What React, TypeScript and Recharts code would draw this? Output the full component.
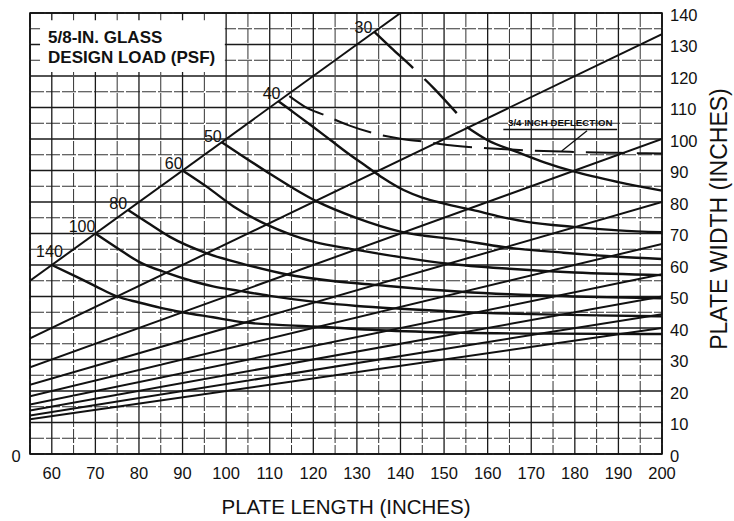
import React from "react";
import {
  LineChart,
  Line,
  XAxis,
  YAxis,
  CartesianGrid,
  ReferenceArea,
  ReferenceLine,
  ReferenceDot,
} from "recharts";

const FONT = "'Liberation Sans', Arial, Helvetica, sans-serif";
const INK = "#111";

// axis ticks (inches)
const lengthTicks = [60, 70, 80, 90, 100, 110, 120, 130, 140, 150, 160, 170, 180, 190, 200];
const lengthMinorTicks = [65, 75, 85, 95, 105, 115, 125, 135, 145, 155, 165, 175, 185, 195];
const widthTicks = [0, 10, 20, 30, 40, 50, 60, 70, 80, 90, 100, 110, 120, 130, 140];
const widthMinorTicks = [5, 15, 25, 35, 45, 55, 65, 75, 85, 95, 105, 115, 125, 135];

// aspect ratio lines, read where they enter and leave the grid
const aspectStartLength = [55, 55, 55, 55, 55, 55, 55, 55, 55];
const aspectStartWidth = [55, 36.7, 27.5, 22, 18.3, 15.7, 13.8, 12.2, 11];
const aspectEndLength = [140, 200, 200, 200, 200, 200, 200, 200, 200];
const aspectEndWidth = [140, 133.3, 100, 80, 66.7, 57.1, 50, 44.4, 40];

// design load curves (psf)
const load30DashLength = [134, 138, 143, 148, 152.9];
const load30DashWidth = [134, 128.8, 122.4, 115.6, 108.2];
const load30Length = [155.2, 160, 166.7, 173, 179.7, 190, 200];
const load30Width = [103.8, 99.6, 95.9, 92.6, 89.7, 86.3, 83.6];
const load40Length = [112, 116, 120, 124, 128, 132.3, 136, 140.7, 145, 150, 156.7, 163, 169, 179.7, 190, 200];
const load40Width = [112, 107.9, 103.8, 99.6, 95.4, 91.2, 87.6, 83.8, 81.4, 79.5, 77.4, 75.3, 73.7, 72.1, 71, 70.4];
const load50Length = [99, 104, 110, 115, 120.8, 130, 140, 153.7, 163.6, 177.4, 190, 200];
const load50Width = [99, 94.4, 89, 84.7, 80.2, 74.9, 70.6, 67.9, 65.7, 63.9, 62.6, 61.9];
const load60Length = [90, 95.6, 101.7, 109.3, 115, 120, 130, 140, 151, 165, 180, 200];
const load60Width = [90, 84.8, 78.6, 72.8, 69.6, 67.4, 64.8, 62.5, 60.4, 58.8, 57.6, 56.8];
const load80Length = [77.5, 82, 87, 95.6, 104, 114, 124, 135, 145, 154, 165, 180, 200];
const load80Width = [77.5, 73.4, 69, 63.7, 60.3, 57, 55, 53.6, 52.4, 51.5, 50.7, 50, 49.4];
const load100Length = [70, 75, 80, 86.4, 92, 97, 103, 110, 120.8, 130, 140, 154, 170, 185, 200];
const load100Width = [70, 65.4, 61, 57.5, 55, 53.2, 51.8, 50.2, 48.2, 47, 46.1, 45.1, 44.4, 44, 43.7];
const load140Length = [60, 65, 70, 75, 80, 85, 90, 97, 104, 112, 121, 135, 154, 175, 200];
const load140Width = [60, 56.7, 53.3, 50, 48.1, 46.4, 45, 43.4, 41.8, 41, 40.4, 39.3, 38.5, 38.2, 38.1];

// 3/4 inch deflection limit
const deflectionLength = [114.5, 118, 122.7, 128, 134.2, 140, 145.7, 151.4, 160, 169, 179.7, 190, 200];
const deflectionWidth = [113.6, 110.3, 107.5, 104.4, 101.7, 100.1, 99.1, 98, 97.1, 96.4, 95.9, 95.6, 95.4];

const pts = (xs: number[], ys: number[]) => xs.map((x, i) => ({ x, y: ys[i] }));

const aspectLines = aspectStartLength.map((_, i) =>
  pts([aspectStartLength[i], aspectEndLength[i]], [aspectStartWidth[i], aspectEndWidth[i]])
);

const loadCurves = [
  { name: "30", data: pts(load30Length, load30Width) },
  { name: "40", data: pts(load40Length, load40Width) },
  { name: "50", data: pts(load50Length, load50Width) },
  { name: "60", data: pts(load60Length, load60Width) },
  { name: "80", data: pts(load80Length, load80Width) },
  { name: "100", data: pts(load100Length, load100Width) },
  { name: "140", data: pts(load140Length, load140Width) },
];
const load30Dashed = pts(load30DashLength, load30DashWidth);

// where each load label sits relative to the start of its curve (px)
const labelStarts = [
  { name: "30", x: load30DashLength[0], y: load30DashWidth[0], dx: -2, dy: 1 },
  { name: "40", x: load40Length[0], y: load40Width[0], dx: 2, dy: -2 },
  { name: "50", x: load50Length[0], y: load50Width[0], dx: 0, dy: 0 },
  { name: "60", x: load60Length[0], y: load60Width[0], dx: 0, dy: -2 },
  { name: "80", x: load80Length[0], y: load80Width[0], dx: -1, dy: -1 },
  { name: "100", x: load100Length[0], y: load100Width[0], dx: 0, dy: -2 },
  { name: "140", x: load140Length[0], y: load140Width[0], dx: 11, dy: -8 },
];

const BottomTick = (p: any) => (
  <text x={p.x} y={p.y + 25} textAnchor="middle" fontFamily={FONT} fontSize={16.5} fill={INK}>
    {p.payload.value}
  </text>
);

const RightTick = (p: any) => (
  <text x={p.x + 8} y={p.y + 2} dy="0.36em" textAnchor="start" fontFamily={FONT} fontSize={16.5} fill={INK}>
    {p.payload.value}
  </text>
);

// the "0" at the origin, left of the grid
const OriginLabel = (p: any) => {
  const vb = p.viewBox;
  return (
    <text x={vb.x + 16} y={vb.y + vb.height + 2} dy="0.36em" textAnchor="middle" fontFamily={FONT} fontSize={16.5} fill={INK}>
      0
    </text>
  );
};

const XTitle = (p: any) => {
  const vb = p.viewBox;
  return (
    <text x={vb.x + vb.width / 2} y={vb.y + 60} textAnchor="middle" fontFamily={FONT} fontSize={20.5} fill={INK}>
      PLATE LENGTH (INCHES)
    </text>
  );
};

const YTitle = (p: any) => {
  const vb = p.viewBox;
  const x = vb.x + 65;
  const y = vb.y + vb.height / 2 - 14.5;
  return (
    <text x={x} y={y} transform={`rotate(-90 ${x} ${y})`} textAnchor="middle" fontFamily={FONT} fontSize={23} fill={INK}>
      PLATE WIDTH (INCHES)
    </text>
  );
};

const TitleBox = (p: any) => {
  const vb = p.viewBox;
  return (
    <g fontFamily={FONT} fontSize={17} fontWeight="bold" fill={INK}>
      <text x={vb.x + 8} y={vb.y + 22.5}>5/8-IN. GLASS</text>
      <text x={vb.x + 8} y={vb.y + 43}>DESIGN LOAD (PSF)</text>
    </g>
  );
};

const DeflectionText = (p: any) => {
  const vb = p.viewBox;
  return (
    <text x={vb.x + vb.width / 2} y={vb.y - 3.5} textAnchor="middle" fontFamily={FONT} fontSize={9.7} fontWeight="bold" fill={INK}>
      3/4 INCH DEFLECTION
    </text>
  );
};

const loadLabel = (text: string, dx: number, dy: number) => (p: any) => {
  const vb = p.viewBox;
  return (
    <text x={vb.x + dx} y={vb.y + dy} textAnchor="end" fontFamily={FONT} fontSize={16} fill={INK}>
      {text}
    </text>
  );
};

export default function App() {
  return (
    <div style={{ position: "absolute", left: 0, top: 0, width: 734, height: 521, background: "#fff" }}>
      <LineChart width={734} height={521} margin={{ top: 13, right: 12, bottom: 27, left: 0 }}>
        <XAxis
          xAxisId={0}
          type="number"
          dataKey="x"
          domain={[55, 200]}
          ticks={lengthTicks}
          interval={0}
          allowDataOverflow
          tickSize={0}
          tickMargin={0}
          axisLine={false}
          height={40}
          tick={BottomTick}
          label={XTitle}
        />
        <XAxis xAxisId="minor" type="number" dataKey="x" domain={[55, 200]} ticks={lengthMinorTicks} interval={0} allowDataOverflow hide />
        <YAxis
          yAxisId={0}
          orientation="right"
          type="number"
          domain={[0, 140]}
          ticks={widthTicks}
          interval={0}
          allowDataOverflow
          tickSize={0}
          tickMargin={0}
          axisLine={false}
          width={60}
          tick={RightTick}
          label={YTitle}
        />
        <YAxis yAxisId="minor" orientation="right" type="number" domain={[0, 140]} ticks={widthMinorTicks} interval={0} allowDataOverflow hide />
        <YAxis
          yAxisId="left"
          orientation="left"
          type="number"
          domain={[0, 140]}
          tick={false}
          tickLine={false}
          axisLine={false}
          width={30}
          label={OriginLabel}
        />

        <CartesianGrid xAxisId="minor" yAxisId="minor" stroke="#333" strokeWidth={1} strokeDasharray="14 2" />
        <CartesianGrid xAxisId={0} yAxisId={0} stroke="#1a1a1a" strokeWidth={1.3} />

        <ReferenceArea
          xAxisId={0}
          yAxisId={0}
          x1={57.3}
          x2={99.7}
          y1={121.3}
          y2={137.7}
          fill="#fff"
          fillOpacity={1}
          stroke="none"
          label={TitleBox}
        />

        {aspectLines.map((d, i) => (
          <Line
            key={`aspect-${i}`}
            xAxisId={0}
            yAxisId={0}
            data={d}
            dataKey="y"
            type="linear"
            stroke={INK}
            strokeWidth={2}
            dot={false}
            activeDot={false}
            isAnimationActive={false}
          />
        ))}

        {loadCurves.map((c) => (
          <Line
            key={`load-${c.name}`}
            xAxisId={0}
            yAxisId={0}
            data={c.data}
            dataKey="y"
            type="monotone"
            stroke={INK}
            strokeWidth={2.4}
            dot={false}
            activeDot={false}
            isAnimationActive={false}
          />
        ))}
        <Line
          xAxisId={0}
          yAxisId={0}
          data={load30Dashed}
          dataKey="y"
          type="monotone"
          stroke={INK}
          strokeWidth={2.4}
          strokeDasharray="53 16"
          dot={false}
          activeDot={false}
          isAnimationActive={false}
        />
        <Line
          xAxisId={0}
          yAxisId={0}
          data={pts(deflectionLength, deflectionWidth)}
          dataKey="y"
          type="monotone"
          stroke={INK}
          strokeWidth={2}
          strokeDasharray="39 12"
          dot={false}
          activeDot={false}
          isAnimationActive={false}
        />

        <ReferenceLine
          xAxisId={0}
          yAxisId={0}
          segment={[{ x: 163.6, y: 103 }, { x: 189.7, y: 103 }]}
          stroke={INK}
          strokeWidth={1.6}
          label={DeflectionText}
        />
        <ReferenceLine
          xAxisId={0}
          yAxisId={0}
          segment={[{ x: 182.8, y: 102.6 }, { x: 177, y: 96.2 }]}
          stroke={INK}
          strokeWidth={1.3}
        />

        {labelStarts.map((l) => (
          <ReferenceDot
            key={`lbl-${l.name}`}
            xAxisId={0}
            yAxisId={0}
            x={l.x}
            y={l.y}
            r={0}
            fill="none"
            stroke="none"
            label={loadLabel(l.name, l.dx, l.dy)}
          />
        ))}

        <ReferenceArea
          xAxisId={0}
          yAxisId={0}
          x1={55}
          x2={200}
          y1={0}
          y2={140}
          fill="none"
          stroke={INK}
          strokeWidth={1.6}
        />
      </LineChart>
    </div>
  );
}
